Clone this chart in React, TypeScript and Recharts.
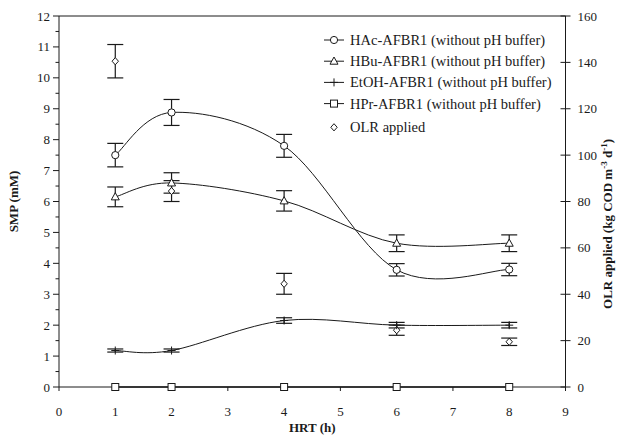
import {
  ComposedChart,
  Line,
  Scatter,
  XAxis,
  YAxis,
  ErrorBar,
  Legend,
} from "recharts";

const hrt = [1, 2, 4, 6, 8];
const hac = [7.5, 8.88, 7.8, 3.79, 3.8];
const hacErr = [0.38, 0.42, 0.37, 0.2, 0.2];
const hbu = [6.15, 6.6, 6.02, 4.65, 4.65];
const hbuErr = [0.32, 0.33, 0.33, 0.27, 0.27];
const etoh = [1.18, 1.18, 2.15, 2.0, 2.0];
const etohErr = [0.05, 0.05, 0.09, 0.09, 0.09];
const hpr = [0, 0, 0, 0, 0];
const olr = [140.5, 84.5, 44.5, 24.5, 19.5];
const olrErr = [7.2, 4.5, 4.5, 2.2, 1.6];

const xTicks = [0, 1, 2, 3, 4, 5, 6, 7, 8, 9];
const leftTicks = [
  0, 0.5, 1, 1.5, 2, 2.5, 3, 3.5, 4, 4.5, 5, 5.5, 6, 6.5, 7, 7.5, 8, 8.5, 9,
  9.5, 10, 10.5, 11, 11.5, 12,
];
const rightTicks = [0, 20, 40, 60, 80, 100, 120, 140, 160];

const legendItems = [
  { name: "HAc-AFBR1 (without pH buffer)", marker: "circle", line: true },
  { name: "HBu-AFBR1 (without pH buffer)", marker: "triangle", line: true },
  { name: "EtOH-AFBR1 (without pH buffer)", marker: "plus", line: true },
  { name: "HPr-AFBR1 (without pH buffer)", marker: "square", line: true },
  { name: "OLR applied", marker: "diamond", line: false },
];

const data = hrt.map((h, i) => ({
  hrt: h,
  hac: hac[i],
  hacErr: hacErr[i],
  hbu: hbu[i],
  hbuErr: hbuErr[i],
  etoh: etoh[i],
  etohErr: etohErr[i],
  hpr: hpr[i],
  olr: olr[i],
  olrErr: olrErr[i],
}));

const FONT = "'Liberation Serif', Tinos, 'Times New Roman', Times, 'DejaVu Serif', serif";
const INK = "#1a1a1a";
const CHART_W = 622;
const LEFT_W = 59;
const RIGHT_W = 56.5;

// smoothed line like a spreadsheet "smoothed line" (cardinal spline, 1/6 handles)
function smoothCurve(context: any) {
  let pts: number[][] = [];
  return {
    areaStart() {},
    areaEnd() {},
    lineStart() {
      pts = [];
    },
    point(x: number, y: number) {
      pts.push([+x, +y]);
    },
    lineEnd() {
      if (!pts.length) return;
      context.moveTo(pts[0][0], pts[0][1]);
      for (let i = 0; i < pts.length - 1; i++) {
        const p0 = pts[Math.max(i - 1, 0)];
        const p1 = pts[i];
        const p2 = pts[i + 1];
        const p3 = pts[Math.min(i + 2, pts.length - 1)];
        context.bezierCurveTo(
          p1[0] + (p2[0] - p0[0]) / 6,
          p1[1] + (p2[1] - p0[1]) / 6,
          p2[0] - (p3[0] - p1[0]) / 6,
          p2[1] - (p3[1] - p1[1]) / 6,
          p2[0],
          p2[1]
        );
      }
    },
  };
}

function Marker({ kind, cx, cy }: { kind: string; cx: number; cy: number }) {
  if (kind === "circle")
    return <circle cx={cx} cy={cy} r={3.6} fill="#fff" stroke={INK} strokeWidth={1} />;
  if (kind === "triangle")
    return (
      <polygon
        points={`${cx},${cy - 4.2} ${cx + 4},${cy + 3} ${cx - 4},${cy + 3}`}
        fill="#fff"
        stroke={INK}
        strokeWidth={1}
      />
    );
  if (kind === "square")
    return (
      <rect x={cx - 3.5} y={cy - 3.5} width={7} height={7} fill="#fff" stroke={INK} strokeWidth={1} />
    );
  if (kind === "diamond")
    return (
      <polygon
        points={`${cx},${cy - 3.6} ${cx + 3.2},${cy} ${cx},${cy + 3.6} ${cx - 3.2},${cy}`}
        fill="#fff"
        stroke={INK}
        strokeWidth={1}
      />
    );
  return (
    <g stroke={INK} strokeWidth={1}>
      <line x1={cx - 4} y1={cy} x2={cx + 4} y2={cy} />
      <line x1={cx} y1={cy - 4} x2={cx} y2={cy + 4} />
    </g>
  );
}

const dotOf = (kind: string) => (p: any) =>
  <Marker key={`${kind}-${p.index}`} kind={kind} cx={p.cx} cy={p.cy} />;

// left ticks: long at integers, short at halves; the top one also closes the frame
function LeftTick(props: any) {
  const { x, y, payload } = props;
  const v = Number(payload.value);
  const major = Number.isInteger(v);
  return (
    <g>
      <line x1={x} y1={y} x2={x - (major ? 6 : 3.5)} y2={y} stroke={INK} />
      {v === 12 && (
        <line x1={x} y1={y} x2={CHART_W - RIGHT_W} y2={y} stroke={INK} strokeWidth={1} />
      )}
      {major && (
        <text x={x - 9} y={y} dy="0.35em" textAnchor="end" fontSize={13} fontFamily={FONT} fill={INK}>
          {payload.value}
        </text>
      )}
    </g>
  );
}

function RightTick(props: any) {
  const { x, y, payload } = props;
  return (
    <g>
      <line x1={x - 5} y1={y} x2={x + 5} y2={y} stroke={INK} />
      <text x={x + 12} y={y} dy="0.35em" textAnchor="start" fontSize={13} fontFamily={FONT} fill={INK}>
        {payload.value}
      </text>
    </g>
  );
}

function RightLabel() {
  const cx = 612;
  const cy = 224;
  return (
    <text
      x={cx}
      y={cy}
      transform={`rotate(-90, ${cx}, ${cy})`}
      textAnchor="middle"
      fontSize={13}
      fontWeight="bold"
      fontFamily={FONT}
      fill={INK}
    >
      OLR applied (kg COD m
      <tspan dy={-5} fontSize={9}>-3</tspan>
      <tspan dy={5}> d</tspan>
      <tspan dy={-5} fontSize={9}>-1</tspan>
      <tspan dy={5}>)</tspan>
    </text>
  );
}

function LegendBox() {
  return (
    <svg width={240} height={115} style={{ display: "block" }}>
      {legendItems.map((it, i) => {
        const y = 10 + i * 21.2 + (it.line ? 0 : 2.5);
        return (
          <g key={it.name}>
            {it.line && <line x1={4} y1={y} x2={24} y2={y} stroke={INK} strokeWidth={1} />}
            <Marker kind={it.marker} cx={14} cy={y} />
            <text x={30} y={y} dy="0.35em" fontSize={14.5} fontFamily={FONT} fill={INK}>
              {it.name}
            </text>
          </g>
        );
      })}
    </svg>
  );
}

export default function App() {
  return (
    <div style={{ position: "absolute", left: 0, top: 0, background: "#fff" }}>
      <ComposedChart
        width={CHART_W}
        height={436}
        data={data}
        margin={{ top: 16, right: 0, bottom: 0, left: 0 }}
        style={{ fontFamily: FONT }}
      >
        <XAxis
          dataKey="hrt"
          type="number"
          domain={[0, 9]}
          ticks={xTicks}
          interval={0}
          height={49}
          stroke={INK}
          tickSize={4}
          tickMargin={16}
          tick={{ fontSize: 13, fill: INK, fontFamily: FONT }}
          label={{
            value: "HRT (h)",
            position: "insideBottom",
            offset: 4,
            style: { fontWeight: "bold", fontSize: 13, fill: INK, fontFamily: FONT },
          }}
        />
        <YAxis
          yAxisId="left"
          type="number"
          domain={[0, 12]}
          ticks={leftTicks}
          interval={0}
          width={LEFT_W}
          stroke={INK}
          tickLine={false}
          tickSize={0}
          tickMargin={0}
          tick={<LeftTick />}
          label={{
            value: "SMP (mM)",
            angle: -90,
            position: "insideLeft",
            offset: 13,
            style: { textAnchor: "middle", fontWeight: "bold", fontSize: 13, fill: INK, fontFamily: FONT },
          }}
        />
        <YAxis
          yAxisId="right"
          orientation="right"
          type="number"
          domain={[0, 160]}
          ticks={rightTicks}
          interval={0}
          width={RIGHT_W}
          stroke={INK}
          tickLine={false}
          tickSize={0}
          tickMargin={0}
          tick={<RightTick />}
          label={<RightLabel />}
        />
        <Legend
          layout="vertical"
          align="center"
          verticalAlign="middle"
          wrapperStyle={{ position: "absolute", top: 30, left: 320, width: 240 }}
          content={() => <LegendBox />}
        />
        <Line
          yAxisId="left"
          dataKey="hac"
          type={smoothCurve as any}
          stroke={INK}
          strokeWidth={1}
          dot={dotOf("circle")}
          activeDot={false}
          isAnimationActive={false}
        >
          <ErrorBar dataKey="hacErr" width={8} stroke={INK} strokeWidth={1.2} direction="y" />
        </Line>
        <Line
          yAxisId="left"
          dataKey="hbu"
          type={smoothCurve as any}
          stroke={INK}
          strokeWidth={1}
          dot={dotOf("triangle")}
          activeDot={false}
          isAnimationActive={false}
        >
          <ErrorBar dataKey="hbuErr" width={8} stroke={INK} strokeWidth={1.2} direction="y" />
        </Line>
        <Line
          yAxisId="left"
          dataKey="etoh"
          type={smoothCurve as any}
          stroke={INK}
          strokeWidth={1}
          dot={dotOf("plus")}
          activeDot={false}
          isAnimationActive={false}
        >
          <ErrorBar dataKey="etohErr" width={8} stroke={INK} strokeWidth={1.2} direction="y" />
        </Line>
        <Line
          yAxisId="left"
          dataKey="hpr"
          type="linear"
          stroke={INK}
          strokeWidth={1.6}
          dot={dotOf("square")}
          activeDot={false}
          isAnimationActive={false}
        />
        <Scatter
          yAxisId="right"
          dataKey="olr"
          isAnimationActive={false}
          shape={(p: any) => <Marker kind="diamond" cx={p.cx} cy={p.cy} />}
        >
          <ErrorBar dataKey="olrErr" width={8} stroke={INK} strokeWidth={1.2} direction="y" />
        </Scatter>
      </ComposedChart>
    </div>
  );
}
